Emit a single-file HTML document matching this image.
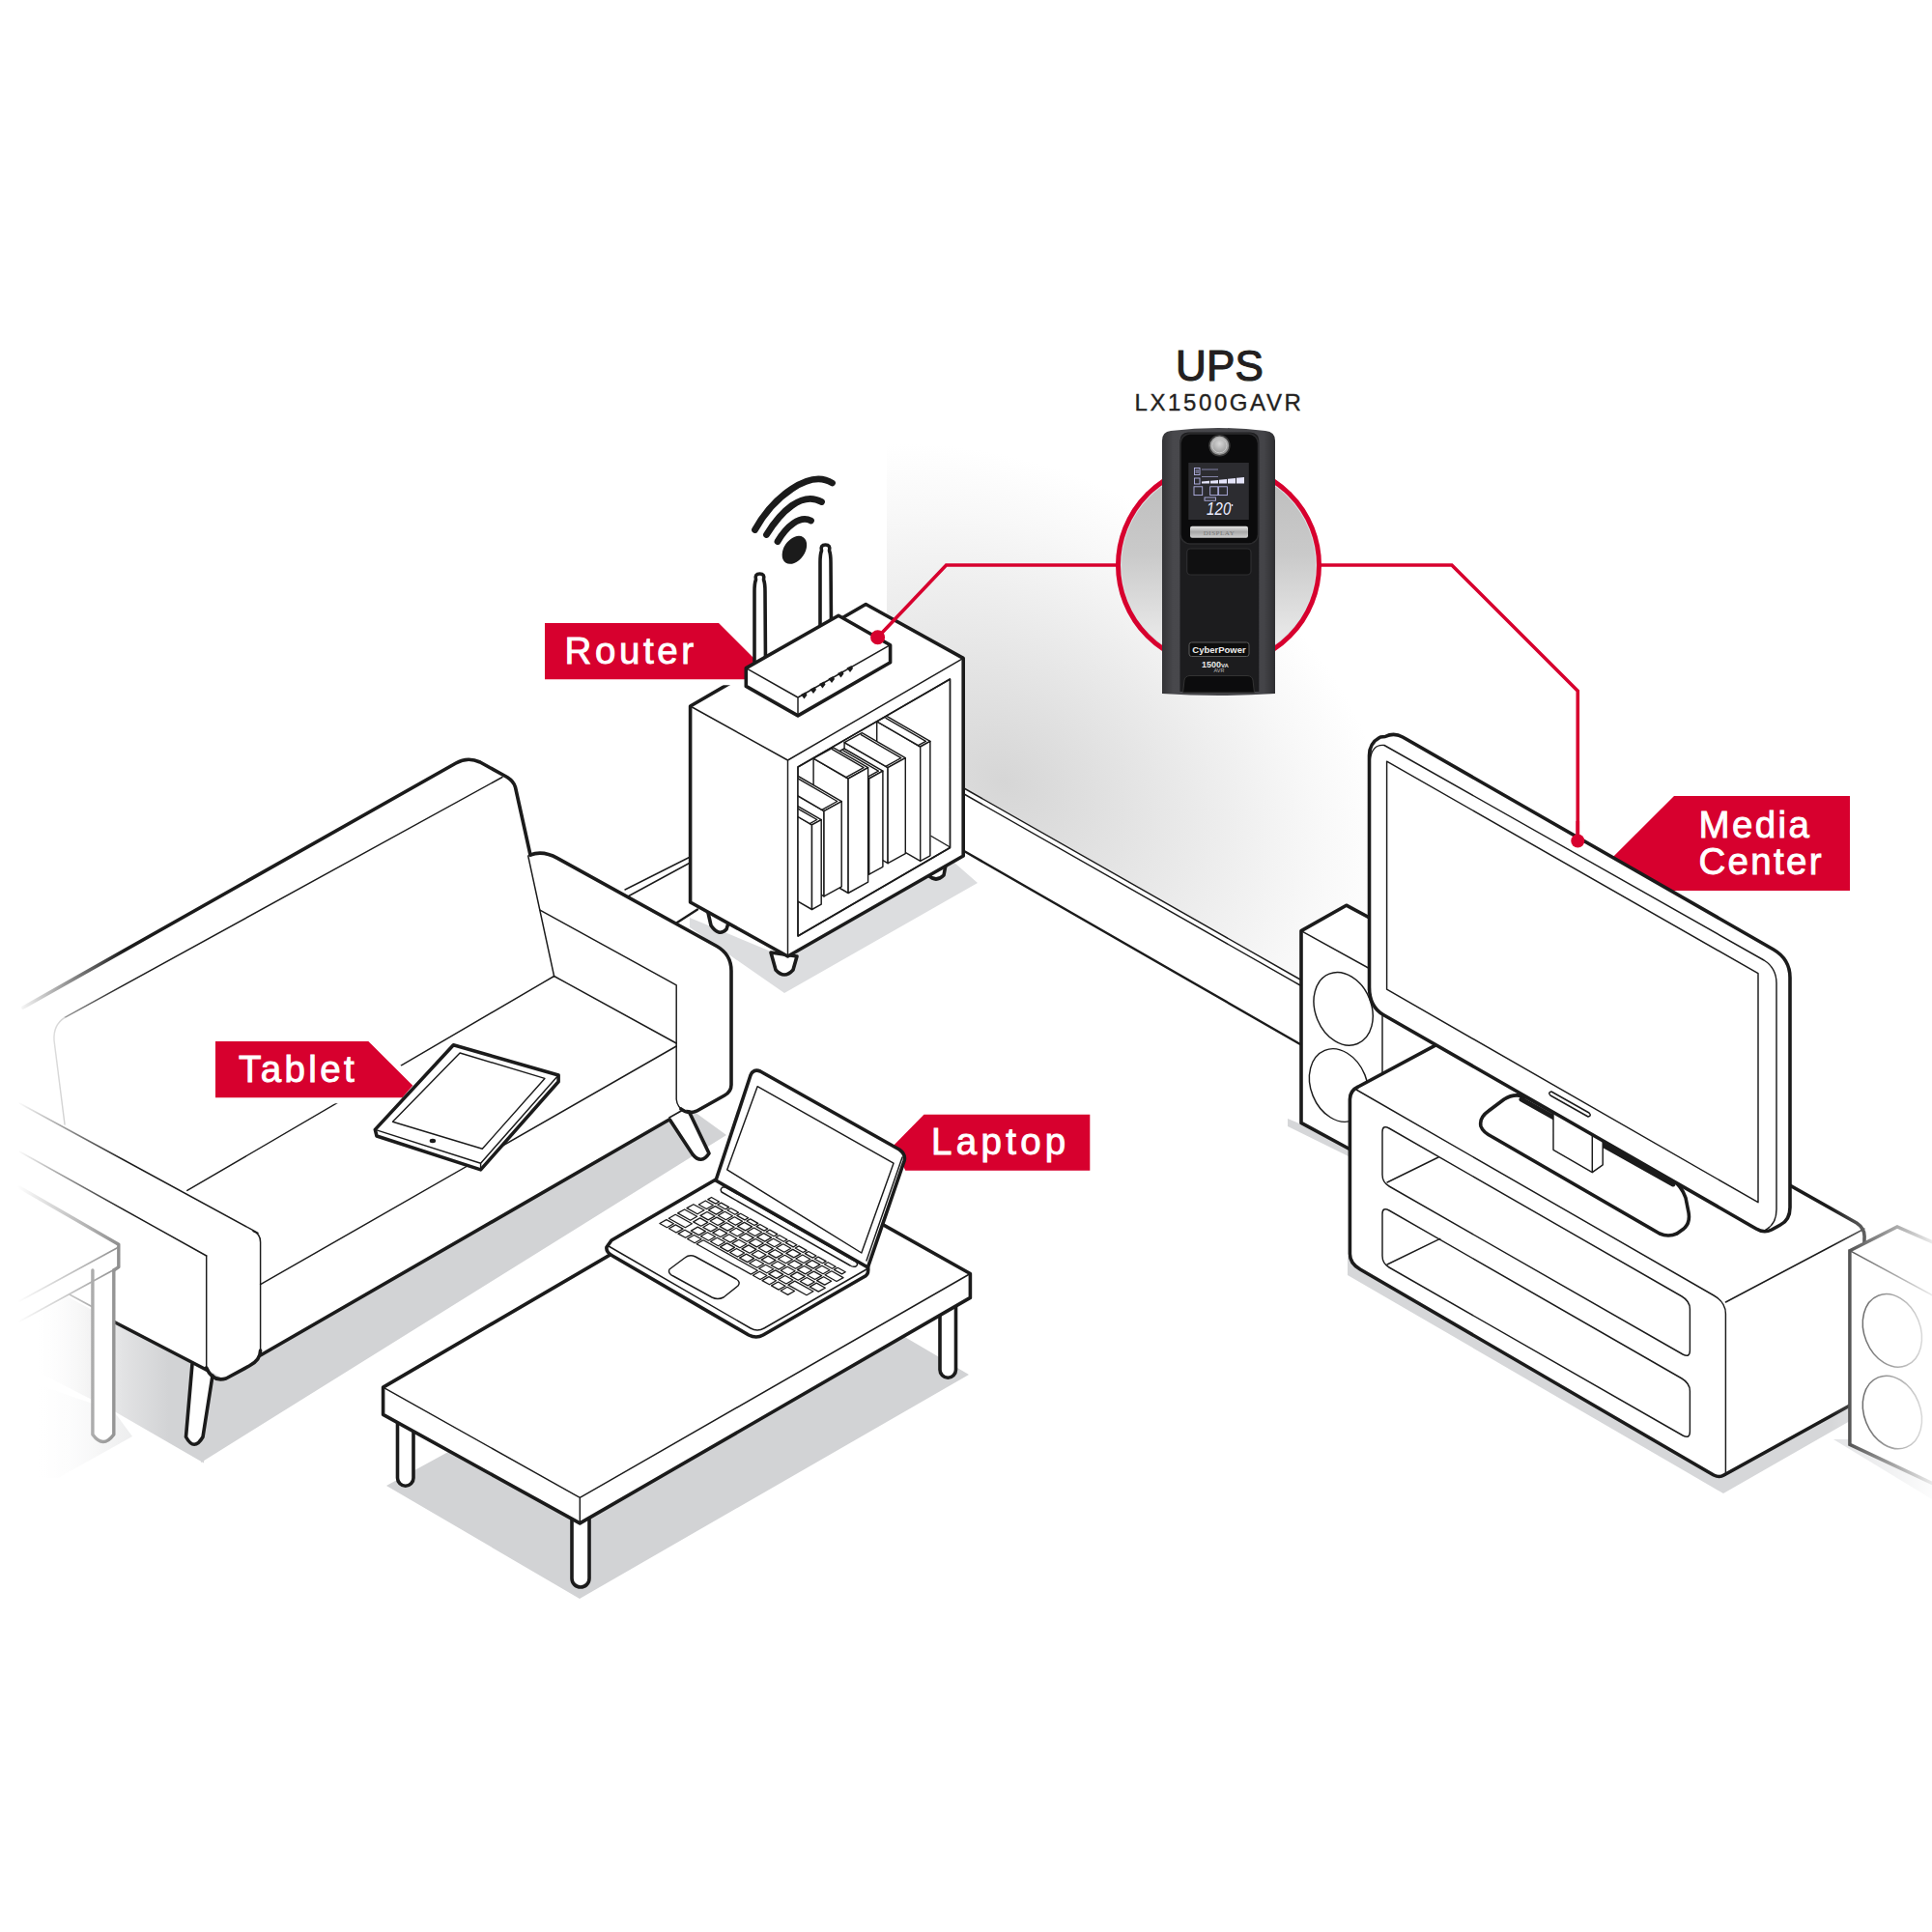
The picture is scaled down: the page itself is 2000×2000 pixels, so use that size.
<!DOCTYPE html>
<html><head><meta charset="utf-8">
<style>
html,body{margin:0;padding:0;background:#fff;}
body{width:2000px;height:2000px;overflow:hidden;}
svg{display:block;}
.k{stroke:#1b1b1b;stroke-width:3.6;fill:none;stroke-linejoin:round;stroke-linecap:round;}
.t{stroke:#1b1b1b;stroke-width:1.45;fill:none;stroke-linejoin:round;stroke-linecap:round;}
.kw{stroke:#1b1b1b;stroke-width:3.6;fill:#fff;stroke-linejoin:round;stroke-linecap:round;}
.tw{stroke:#1b1b1b;stroke-width:1.45;fill:#fff;stroke-linejoin:round;stroke-linecap:round;}
.r{stroke:#d7002e;stroke-width:3.6;fill:none;stroke-linejoin:miter;}
.lbl{font-family:"Liberation Sans",sans-serif;font-weight:normal;font-size:38.5px;fill:#fff;stroke:#fff;stroke-width:0.9px;}
</style></head><body>
<svg width="2000" height="2000" viewBox="0 0 2000 2000" xmlns="http://www.w3.org/2000/svg">
<!-- defs -->
<defs>
<radialGradient id="wallg" gradientUnits="userSpaceOnUse" cx="0" cy="0" r="1" gradientTransform="translate(1040 810) rotate(30) scale(430 320)">
<stop offset="0" stop-color="#d6d6d6"/><stop offset="0.5" stop-color="#ebebeb"/><stop offset="0.8" stop-color="#f8f8f8"/><stop offset="1" stop-color="#ffffff"/>
</radialGradient>
<linearGradient id="upsg" gradientUnits="userSpaceOnUse" x1="0" y1="480" x2="0" y2="690">
<stop offset="0" stop-color="#bcbcbc"/><stop offset="0.45" stop-color="#cacaca"/><stop offset="1" stop-color="#f3f3f3"/>
</linearGradient>
<linearGradient id="fadeL" gradientUnits="userSpaceOnUse" x1="18" y1="0" x2="128" y2="0">
<stop offset="0" stop-color="#fff" stop-opacity="1"/><stop offset="1" stop-color="#fff" stop-opacity="0"/>
</linearGradient>
<linearGradient id="shadL" gradientUnits="userSpaceOnUse" x1="40" y1="0" x2="175" y2="0">
<stop offset="0" stop-color="#d2d3d5" stop-opacity="0"/><stop offset="1" stop-color="#d2d3d5" stop-opacity="1"/>
</linearGradient>
<linearGradient id="fadeR" gradientUnits="userSpaceOnUse" x1="1895" y1="0" x2="2000" y2="0">
<stop offset="0" stop-color="#fff" stop-opacity="0"/><stop offset="1" stop-color="#fff" stop-opacity="0.9"/>
</linearGradient>
<linearGradient id="sideg" gradientUnits="userSpaceOnUse" x1="1203" y1="0" x2="1320" y2="0">
<stop offset="0" stop-color="#333336"/><stop offset="0.1" stop-color="#48484c"/><stop offset="0.9" stop-color="#444448"/><stop offset="1" stop-color="#2e2e31"/>
</linearGradient>
<linearGradient id="silver" x1="0" y1="0" x2="0" y2="1">
<stop offset="0" stop-color="#e6e6e6"/><stop offset="0.5" stop-color="#a9a9a9"/><stop offset="1" stop-color="#d0d0d0"/>
</linearGradient>
<radialGradient id="btng" cx="0.5" cy="0.4" r="0.6">
<stop offset="0" stop-color="#d8d8d8"/><stop offset="1" stop-color="#8a8a8a"/>
</radialGradient>
<clipPath id="shelfclip"><polygon points="826,794 983.5,703 983.5,877.5 826,969"/></clipPath>
</defs>
<rect x="0" y="0" width="2000" height="2000" fill="#fff"/>

<!-- floor -->
<g id="wall">
<polygon points="918,300 1800,300 1800,1100 1346,1014 998,816 918,770" fill="url(#wallg)"/>
<!-- right baseboard -->
<polygon points="918,770 998,816 1346,1014 1346,1081 998,881 918,835" fill="#fff"/>
<path class="t" d="M998,816 L1346,1014 M998,822 L1346,1020"/>
<path class="t" d="M998,881 L1346,1081" style="stroke-width:2.4"/>
<!-- left baseboard -->
<path class="t" d="M647,921 L714.5,887 M650,928 L714.5,893"/>
<path class="t" d="M701,955 L722,941.5" style="stroke-width:2.4"/>
</g>
<g id="shadows">
<polygon points="714,950 714,960 812,1028 1012,914 988,893 815,992" fill="#dcdddf"/>
<polygon points="175,1340 213.7,1418 208,1514 752,1175 712,1146 300,1270" fill="#d2d3d5"/>
<polygon points="0,1300 118,1369 213.7,1418 211,1514.4 117.5,1460.6 0,1400" fill="url(#shadL)"/>
<polygon points="0,1420 117.5,1460.6 137,1487 60,1530 0,1530" fill="url(#shadL)" opacity="0.55"/>
<polygon points="400,1538 600,1655 1003,1423 940,1386 800,1300 464,1503" fill="#d2d3d5"/>
<polygon points="1395,1300 1395,1320 1784,1546 1915,1471 1915,1455 1784,1527" fill="#d6d7d9"/>
<polygon points="1333,1158 1333,1166 1398,1198 1398,1185" fill="#d6d7d9"/>
</g>

<!-- bookshelf -->
<g id="bookshelf">
<path class="kw" d="M731,936 L736,958 Q744,970 752,962 L757,946 Z" />
<path class="kw" d="M798,986 L803,1004 Q812,1014 821,1004 L825,990 Z" />
<path class="kw" d="M957,893 L961,906 Q969,914 977,906 L981,885 Z" />
<polygon class="kw" points="714.6,731 896.3,625.5 997.2,681.4 997.2,886 815.5,990 714.6,934"/>
<path class="t" d="M714.6,731 L815.5,787 L997.2,681.4 M815.5,787 L815.5,990"/>
<polygon class="tw" points="826,794 983.5,703 983.5,877.5 826,969"/>
<path class="t" d="M964,865.5 L983.5,877"/>
<g clip-path="url(#shelfclip)"><polygon class="tw" points="952.7,773.0 907.7,746.9 907.7,865.3 952.7,891.4" /><polygon class="tw" points="952.7,773.0 962.9,767.4 917.9,741.3 907.7,746.9" /><polygon class="tw" points="952.7,773.0 962.9,767.4 962.9,885.8 952.7,891.4" /><path class="t" style="stroke-width:1.4" d="M917.0,743.3 L958.4,767.3 L950.5,771.7"/><polygon class="tw" points="919.1,794.7 874.1,768.6 874.1,867.6 919.1,893.7" /><polygon class="tw" points="919.1,794.7 937.3,784.7 892.3,758.6 874.1,768.6" /><polygon class="tw" points="919.1,794.7 937.3,784.7 937.3,883.7 919.1,893.7" /><path class="t" style="stroke-width:1.4" d="M891.4,760.6 L932.8,784.6 L916.9,793.4"/><polygon class="tw" points="899.7,806.0 859.7,782.8 859.7,881.9 899.7,905.1" /><polygon class="tw" points="899.7,806.0 913.9,798.2 873.9,775.0 859.7,782.8" /><polygon class="tw" points="899.7,806.0 913.9,798.2 913.9,897.3 899.7,905.1" /><path class="t" style="stroke-width:1.4" d="M872.8,776.9 L909.4,798.1 L897.5,804.7"/><polygon class="tw" points="878.1,806.0 842.1,785.1 842.1,903.6 878.1,924.5" /><polygon class="tw" points="878.1,806.0 898.6,794.7 862.6,773.8 842.1,785.1" /><polygon class="tw" points="878.1,806.0 898.6,794.7 898.6,913.2 878.1,924.5" /><path class="t" style="stroke-width:1.4" d="M861.4,775.7 L894.1,794.7 L875.9,804.7"/><polygon class="tw" points="853.0,839.6 808.0,813.5 808.0,901.8 853.0,927.9" /><polygon class="tw" points="853.0,839.6 871.2,829.6 826.2,803.5 808.0,813.5" /><polygon class="tw" points="853.0,839.6 871.2,829.6 871.2,917.9 853.0,927.9" /><path class="t" style="stroke-width:1.4" d="M825.3,805.5 L866.7,829.5 L850.8,838.3"/><polygon class="tw" points="840.5,853.9 795.5,827.8 795.5,915.4 840.5,941.5" /><polygon class="tw" points="840.5,853.9 850.2,848.6 805.2,822.5 795.5,827.8" /><polygon class="tw" points="840.5,853.9 850.2,848.6 850.2,936.2 840.5,941.5" /><path class="t" style="stroke-width:1.4" d="M804.3,824.5 L845.7,848.5 L838.3,852.6"/></g>
<polygon class="t" points="826,794 983.5,703 983.5,877.5 826,969"/>
</g>

<!-- lbl_router -->
<polygon points="564,645 744,645 781,682 771.5,703.2 564,703.2" fill="#fff" stroke="#fff" stroke-width="12" stroke-linejoin="miter"/>
<polygon points="564,645 744,645 781,682 771.5,703.2 564,703.2" fill="#d7002e"/>
<text class="lbl" x="584.5" y="686.6" letter-spacing="3.6">Router</text>

<!-- router -->
<g id="router">
<!-- antennas -->
<path class="kw" style="stroke-width:3.6" d="M781,690 L781,612 Q781,604 782.5,600 Q781,594 786.5,594 Q792,594 790.5,600 Q792,604 792,612 L792.5,690 Z"/>
<path class="kw" style="stroke-width:3.6" d="M849,650 L849,582 Q849,574 850.5,570 Q849,564 854.5,564 Q860,564 858.5,570 Q860,574 860,582 L860.5,650 Z"/>
<!-- body -->
<polygon class="kw" points="772.3,691.6 868,637.2 921.6,667.7 921.6,685.8 826,740.9 772.3,710.4"/>
<path class="t" d="M772.3,691.6 L826,722 L921.6,667.7 M826,722 L826,740.9"/>
<g fill="#1b1b1b">
<path d="M829,719 l5,-2.5 l1.5,3 l-3,4 z"/><path d="M838.5,713.5 l5,-2.5 l1.5,3 l-3,4 z"/><path d="M848,708 l5,-2.5 l1.5,3 l-3,4 z"/>
<path d="M857.5,702.5 l5,-2.5 l1.5,3 l-3,4 z"/><path d="M867,697 l5,-2.5 l1.5,3 l-3,4 z"/><path d="M876.5,691.5 l5,-2.5 l1.5,3 l-3,4 z"/>
</g>
<!-- wifi -->
<g stroke="#1b1b1b" stroke-width="6.8" fill="none" stroke-linecap="round">
<path d="M781.5,548.5 C800,515 838,485 861.5,500"/>
<path d="M793.5,553.5 C808,530 830,508 850.5,519.5"/>
<path d="M805,560.5 C814,545 828,533 839.5,539"/>
</g>
<ellipse cx="822.4" cy="569.3" rx="10.8" ry="16" transform="rotate(35 822.4 569.3)" fill="#1b1b1b"/>
</g>

<!-- ups -->
<g id="redlines">
<polyline class="r" points="908.6,659.7 979.5,585 1156,585"/>
<polyline class="r" points="1367,585 1502.9,585 1633.3,715.2 1633.3,869"/>
<circle cx="908.6" cy="659.7" r="7.5" fill="#d7002e"/>
</g>
<g id="ups">
<circle cx="1261.5" cy="585" r="101.5" fill="url(#upsg)"/>
<circle cx="1261.5" cy="585" r="101" fill="none" stroke="#d8e4e4" stroke-width="1.2"/>
<circle cx="1261.5" cy="585" r="104" fill="none" stroke="#d7002e" stroke-width="5"/>
<!-- body -->
<path d="M1203,456 Q1203,447 1212,446 Q1261,440 1310,446 Q1320,447 1320,456 L1320,718 Q1261,722 1203,718 Z" fill="url(#sideg)"/>
<path d="M1221.5,456 Q1221.5,448 1230,447.5 L1294,447.5 Q1303.3,448 1303.3,456 L1303.3,716 L1221.5,716 Z" fill="#1c1c1e"/>
<rect x="1222" y="449" width="80.5" height="114" rx="10" fill="#0b0b0c" stroke="#2b2b2d" stroke-width="1.5"/>
<circle cx="1262.4" cy="461.3" r="10.5" fill="url(#btng)" stroke="#3a3a3a" stroke-width="1.5"/>
<circle cx="1262.4" cy="461.3" r="7.5" fill="none" stroke="#c8c8c8" stroke-width="1"/>
<rect x="1230.3" y="479" width="62.5" height="59" fill="#2c2c30"/>
<g fill="none" stroke="#b4b4e8" stroke-width="0.9">
<rect x="1236.5" y="484.5" width="5.5" height="7"/><path d="M1237.5,487 h3.5 M1237.5,489 h3.5"/>
<rect x="1236.5" y="495" width="5.5" height="6"/>
<rect x="1236" y="503.8" width="8.7" height="8.8"/><rect x="1252.7" y="503.8" width="8.1" height="8.8"/><rect x="1261.6" y="503.8" width="8.8" height="8.8"/>
<rect x="1247" y="515" width="11.4" height="3.2"/>
</g>
<path d="M1244,486 h17 M1244,493.5 h17" stroke="#9a9ac8" stroke-width="0.8"/>
<g fill="#e4e4fa">
<path d="M1244,498.6 L1252,497.8 L1252,500.6 L1244,500.6 Z"/>
<path d="M1253,497.7 L1261,496.9 L1261,500.6 L1253,500.6 Z"/>
<path d="M1262,496.8 L1270,495.9 L1270,500.6 L1262,500.6 Z"/>
<path d="M1271,495.8 L1279,494.9 L1279,500.6 L1271,500.6 Z"/>
<path d="M1280,494.8 L1288,494 L1288,500.6 L1280,500.6 Z"/>
</g>
<text x="0" y="0" transform="translate(1249 532.7) scale(1 1.2)" font-family="Liberation Sans, sans-serif" font-style="italic" font-size="15" fill="#ececff" letter-spacing="0.2">120</text>
<circle cx="1275.5" cy="523" r="0.9" fill="#ececff"/>
<rect x="1232" y="544.7" width="60" height="12" rx="2" fill="url(#silver)"/>
<text x="1262" y="553.5" text-anchor="middle" font-family="Liberation Serif, serif" font-size="7" fill="#777" letter-spacing="0.5">DISPLAY</text>
<rect x="1228.7" y="568" width="66.3" height="27" rx="4" fill="#101011" stroke="#2e2e30" stroke-width="1.2"/>
<rect x="1231" y="665" width="62" height="14.5" rx="2.5" fill="#0d0d0d" stroke="#5a5a5a" stroke-width="1"/>
<text x="1262" y="676" text-anchor="middle" font-family="Liberation Sans, sans-serif" font-weight="bold" font-size="9.5" fill="#eee">CyberPower</text>
<text x="1258" y="690.5" text-anchor="middle" font-family="Liberation Sans, sans-serif" font-weight="bold" font-size="9" fill="#e8e8e8">1500<tspan font-size="6">VA</tspan></text>
<text x="1262" y="696" text-anchor="middle" font-family="Liberation Sans, sans-serif" font-size="5.5" fill="#bbb">AVR</text>
<path d="M1224.6,717 L1226,704 Q1227,699.5 1232,699.5 L1291,699.5 Q1296,699.5 1297,704 L1298.5,717 Z" fill="#0c0c0d" stroke="#333" stroke-width="1"/>
</g>
<text x="1262.5" y="393.7" text-anchor="middle" font-family="Liberation Sans, sans-serif" font-size="44" fill="#231f20" stroke="#231f20" stroke-width="1.2" letter-spacing="0.2">UPS</text>
<text x="1262" y="425" text-anchor="middle" font-family="Liberation Sans, sans-serif" font-size="24" fill="#231f20" stroke="#231f20" stroke-width="0.35" letter-spacing="2.6">LX1500GAVR</text>

<!-- sofa -->
<g id="sofa">
<!-- legs -->
<path class="kw" d="M692,1157 L717,1195 Q726,1206 734,1194 L712,1148"/>
<path class="kw" d="M199,1412 L192.5,1487.5 Q201,1503 210,1487.5 L220,1424"/>
<polygon fill="#fff" points="0,1060 24,1043 472,790 497,789 533,815 549,885 577,888 742,979.5 757,1005 757,1123 721,1150 705,1148 692.8,1159 269.6,1403 258,1414 232,1428 213.7,1417 118,1368 0,1305"/>
<path class="k" d="M24,1043 L472,790 Q484,783 497,789 L525,804.5 Q532,809 533.5,815 L549,885"/>
<path class="k" d="M549,885 Q562,880 577,888.4 L742,979.5 Q757,988 757,1005 L757,1123 Q757,1130 750,1134 L721,1150.2 Q712,1154 705,1148"/>
<path class="t" d="M520,804.5 L67,1053.4"/>
<path class="t" style="stroke:#9a9a9a" d="M67,1053.4 Q55,1061 56,1077 L67,1164"/>
<path class="t" d="M546.7,886 L573.6,1010.5"/>
<path class="t" d="M559,942.2 L700.2,1019.8 L700.2,1138 Q701,1147 709,1150"/>
<path class="t" d="M573.6,1010.5 L700.2,1080"/>
<path class="t" d="M573.6,1010.5 L193.8,1232.4"/>
<path class="t" d="M700.2,1083 L269.6,1329.7"/>
<path class="t" d="M20,1142 L267,1276.3"/>
<path class="t" d="M20,1192 L213.7,1300"/>
<path class="t" d="M262,1274.5 Q269.6,1277 269.6,1286 L269.6,1403 M213.7,1300 L213.7,1417"/>
<path class="k" d="M213.7,1416 Q220,1431 234,1427 L258,1414 Q269.6,1408 269.6,1398"/>
<path class="k" d="M269.6,1403 L692.8,1159"/>
<path class="t" d="M707,1149 L692.8,1157"/>
<path class="k" d="M100,1359 L213.7,1418"/>
</g>

<!-- lbl_tablet -->
<polygon points="223,1078 381.4,1078 427.3,1123.7 416.5,1136.2 223,1136.2" fill="#fff" stroke="#fff" stroke-width="12" stroke-linejoin="miter"/>
<polygon points="223,1078 381.4,1078 427.3,1123.7 416.5,1136.2 223,1136.2" fill="#d7002e"/>
<text class="lbl" x="247" y="1119.5" letter-spacing="3.4">Tablet</text>

<!-- tablet -->
<g id="tablet">
<polygon class="kw" points="388.3,1169.4 469.4,1081.7 578.1,1113.1 578.1,1119.8 497.6,1210.9 390,1176"/>
<path class="t" d="M388.3,1169.4 L497.6,1204.2 L578.1,1113.1 M497.6,1204.2 L497.6,1210.9"/>
<polygon class="t" points="406.5,1161.2 476.1,1090 563.9,1116.4 499.3,1189.3"/>
<ellipse cx="447.9" cy="1181" rx="3.2" ry="2.2" fill="#1b1b1b"/>
</g>

<!-- sidetable -->
<g id="sidetable" stroke="#8a8a8a" fill="none" stroke-linejoin="round" stroke-linecap="round">
<polygon points="0,1225 122.8,1288.2 122.8,1311.7 50.5,1353.8 0,1370" fill="#fff" stroke="none"/>
<path d="M95.9,1315 L95.9,1485 Q106.8,1500 117.8,1485 L117.8,1315" fill="#fff" stroke-width="3.4"/>
<path d="M20,1229 L122.8,1288.2 L122.8,1311.7 L117.8,1315" stroke-width="3.4"/>
<path d="M122.8,1291 L20,1347 M122.8,1311.7 L20,1368" stroke-width="1.6"/>
<path d="M72.3,1340.3 L95.9,1353" stroke-width="1.6"/>
</g>

<!-- table -->
<g id="table">
<path class="kw" d="M411.5,1460 L411.5,1530 A8.25,8.25 0 0 0 428,1530 L428,1470"/>
<path class="kw" d="M592,1570 L592,1634 A9,9 0 0 0 610,1634 L610,1572"/>
<path class="kw" d="M973,1337 L973,1418 A8.25,8.25 0 0 0 989.5,1418 L989.5,1335"/>
<polygon class="kw" points="396.6,1436.1 797.4,1202.2 1004.4,1318.5 1004.4,1343.4 600.3,1576.9 396.6,1464.3"/>
<path class="t" d="M396.6,1436.1 L600.3,1550.4 L1004.4,1318.5 M600.3,1550.4 L600.3,1576.9"/>
</g>

<!-- lbl_laptop -->
<polygon points="956.5,1153.7 1128.3,1153.7 1128.3,1211.8 937.3,1211.8 924.8,1186" fill="#d7002e"/>
<text class="lbl" x="964" y="1195.3" letter-spacing="4.3">Laptop</text>

<!-- laptop -->
<g id="laptop">
<path class="kw" d="M633,1284 L741,1221 L898.4,1311 Q900,1320 894,1322 L790,1382 Q783,1386 775,1382 L634,1300 Q627,1296 628,1291 Z"/>
<path class="t" d="M630,1290 L777,1375 Q784,1379 791,1375 L897,1314"/>
<path class="kw" d="M741,1222 L777,1113 Q780,1106 787,1109 L931,1190 Q938,1195 936,1202 L898.4,1312 Z"/>
<path class="t" d="M934,1198 L897,1305"/>
<polygon class="t" points="752.7,1210.9 784.1,1124.7 925,1204.2 891.8,1297"/>
<path class="t" d="M751,1229 L886,1306 Q889,1309 886,1311 Q883,1312 880,1310 L747,1234 Q745,1231 748,1229 Z"/>
<path class="t" style="stroke-width:1.3" d="M736.5,1239.5 L744.5,1244.0 L740.8,1246.1 L732.8,1241.6 Z M746.5,1245.1 L754.6,1249.6 L750.9,1251.7 L742.8,1247.2 Z M756.6,1250.7 L764.6,1255.2 L760.9,1257.3 L752.9,1252.8 Z M766.6,1256.3 L774.7,1260.8 L771.0,1262.9 L762.9,1258.4 Z M776.7,1261.9 L784.7,1266.4 L781.0,1268.5 L773.0,1264.0 Z M786.8,1267.5 L794.8,1272.0 L791.1,1274.1 L783.0,1269.6 Z M796.8,1273.1 L804.8,1277.6 L801.1,1279.7 L793.1,1275.2 Z M806.9,1278.7 L814.9,1283.2 L811.2,1285.3 L803.1,1280.8 Z M816.9,1284.3 L824.9,1288.8 L821.2,1290.9 L813.2,1286.4 Z M827.0,1289.9 L835.0,1294.4 L831.3,1296.5 L823.2,1292.0 Z M837.0,1295.5 L845.0,1300.0 L841.3,1302.1 L833.3,1297.6 Z M847.0,1301.1 L855.1,1305.6 L851.4,1307.7 L843.3,1303.2 Z M857.1,1306.7 L865.1,1311.2 L861.4,1313.3 L853.4,1308.8 Z M867.1,1312.3 L875.2,1316.8 L871.5,1318.9 L863.4,1314.4 Z M730.3,1243.0 L738.3,1247.5 L731.4,1251.5 L723.3,1247.0 Z M740.3,1248.6 L748.4,1253.1 L741.4,1257.1 L733.4,1252.6 Z M750.4,1254.2 L758.4,1258.7 L751.5,1262.7 L743.4,1258.2 Z M760.4,1259.8 L768.5,1264.3 L761.5,1268.3 L753.5,1263.8 Z M770.5,1265.4 L778.5,1269.9 L771.6,1273.9 L763.5,1269.4 Z M780.5,1271.0 L788.6,1275.5 L781.6,1279.5 L773.6,1275.0 Z M790.6,1276.6 L798.6,1281.1 L791.7,1285.1 L783.6,1280.6 Z M800.6,1282.2 L808.7,1286.7 L801.7,1290.7 L793.7,1286.2 Z M810.7,1287.8 L818.7,1292.3 L811.8,1296.3 L803.7,1291.8 Z M820.7,1293.4 L828.8,1297.9 L821.8,1301.9 L813.8,1297.4 Z M830.8,1299.0 L838.8,1303.5 L831.9,1307.5 L823.8,1303.0 Z M840.8,1304.6 L848.9,1309.1 L841.9,1313.1 L833.9,1308.6 Z M850.9,1310.2 L858.9,1314.7 L852.0,1318.7 L843.9,1314.2 Z M860.9,1315.8 L873.0,1322.6 L866.0,1326.5 L854.0,1319.8 Z M717.9,1246.7 L729.0,1252.8 L722.0,1256.8 L711.0,1250.6 Z M732.0,1254.5 L740.0,1259.0 L733.1,1262.9 L725.0,1258.4 Z M742.0,1260.1 L750.1,1264.6 L743.1,1268.5 L735.1,1264.0 Z M752.1,1265.7 L760.1,1270.2 L753.2,1274.1 L745.1,1269.6 Z M762.1,1271.3 L770.2,1275.8 L763.2,1279.7 L755.2,1275.2 Z M772.2,1276.9 L780.2,1281.4 L773.3,1285.3 L765.2,1280.8 Z M782.2,1282.5 L790.3,1287.0 L783.3,1290.9 L775.3,1286.4 Z M792.3,1288.1 L800.3,1292.6 L793.4,1296.5 L785.3,1292.0 Z M802.3,1293.7 L810.4,1298.2 L803.4,1302.1 L795.4,1297.6 Z M812.4,1299.3 L820.4,1303.8 L813.5,1307.7 L805.4,1303.2 Z M822.4,1304.9 L830.5,1309.4 L823.5,1313.3 L815.5,1308.8 Z M832.5,1310.5 L840.5,1315.0 L833.6,1318.9 L825.5,1314.4 Z M842.5,1316.1 L850.6,1320.6 L843.6,1324.5 L835.6,1320.0 Z M852.6,1321.7 L860.6,1326.2 L853.7,1330.1 L845.6,1325.6 Z M708.6,1252.0 L721.6,1259.2 L714.7,1263.2 L701.6,1255.9 Z M724.6,1260.9 L732.7,1265.4 L725.7,1269.3 L717.7,1264.9 Z M734.7,1266.5 L742.7,1271.0 L735.8,1274.9 L727.8,1270.5 Z M744.7,1272.1 L752.8,1276.6 L745.8,1280.5 L737.8,1276.1 Z M754.8,1277.7 L762.8,1282.2 L755.9,1286.1 L747.9,1281.7 Z M764.8,1283.3 L772.9,1287.8 L765.9,1291.7 L757.9,1287.3 Z M774.9,1288.9 L782.9,1293.4 L776.0,1297.3 L768.0,1292.9 Z M784.9,1294.5 L793.0,1299.0 L786.0,1302.9 L778.0,1298.5 Z M795.0,1300.1 L803.0,1304.6 L796.1,1308.5 L788.1,1304.1 Z M805.0,1305.7 L813.1,1310.2 L806.1,1314.1 L798.1,1309.7 Z M815.1,1311.3 L823.1,1315.8 L816.2,1319.7 L808.2,1315.3 Z M825.1,1316.9 L833.2,1321.4 L826.2,1325.3 L818.2,1320.9 Z M835.2,1322.5 L843.2,1327.0 L836.3,1330.9 L828.3,1326.5 Z M845.2,1328.1 L854.3,1333.2 L847.3,1337.1 L838.3,1332.1 Z M699.2,1257.3 L716.3,1266.8 L709.4,1270.7 L692.3,1261.2 Z M722.3,1270.1 L730.4,1274.6 L723.4,1278.6 L715.4,1274.1 Z M732.4,1275.7 L740.4,1280.2 L733.5,1284.2 L725.4,1279.7 Z M742.4,1281.3 L750.5,1285.8 L743.5,1289.8 L735.5,1285.3 Z M752.5,1286.9 L760.5,1291.4 L753.6,1295.4 L745.5,1290.9 Z M762.5,1292.5 L770.6,1297.0 L763.6,1301.0 L755.6,1296.5 Z M772.6,1298.1 L780.6,1302.6 L773.7,1306.6 L765.6,1302.1 Z M782.6,1303.7 L790.7,1308.2 L783.7,1312.2 L775.7,1307.7 Z M792.7,1309.3 L800.7,1313.8 L793.8,1317.8 L785.7,1313.3 Z M802.7,1314.9 L810.8,1319.4 L803.8,1323.4 L795.8,1318.9 Z M812.8,1320.5 L820.8,1325.0 L813.9,1329.0 L805.8,1324.5 Z M822.8,1326.1 L841.9,1336.8 L835.0,1340.7 L815.9,1330.1 Z M689.9,1262.6 L697.4,1266.8 L690.5,1270.7 L682.9,1266.5 Z M699.4,1267.9 L707.0,1272.1 L700.0,1276.0 L692.5,1271.8 Z M709.0,1273.2 L716.5,1277.4 L709.6,1281.3 L702.0,1277.1 Z M718.5,1278.5 L726.1,1282.7 L719.1,1286.7 L711.6,1282.5 Z M728.1,1283.8 L784.3,1315.2 L777.4,1319.1 L721.1,1287.8 Z M786.4,1316.3 L793.9,1320.5 L787.0,1324.5 L779.4,1320.3 Z M795.9,1321.6 L803.4,1325.8 L796.5,1329.8 L789.0,1325.6 Z M805.5,1327.0 L813.0,1331.2 L806.0,1335.1 L798.5,1330.9 Z M815.0,1332.3 L822.5,1336.5 L815.6,1340.4 L808.1,1336.2 Z"/>
<path class="t" d="M693,1314 Q691,1318 697,1321 L737,1343 Q743,1346 749,1343 L764,1331 Q767,1327 762,1324 L720,1301 Q714,1298 709,1302 Z"/>
</g>

<!-- media -->
<g id="media">
<!-- left speaker -->
<polygon fill="#fff" points="1347,963.6 1393.7,937.2 1440,962 1440,1200 1398,1190 1347,1162.4"/>
<path class="k" d="M1440,962 L1393.7,937.2 L1347,963.6 L1347,1162.4 L1398,1190"/>
<path class="t" d="M1347,963.6 L1440,1015 M1431,1010 L1431,1190"/>
<ellipse class="t" cx="1390.6" cy="1044.3" rx="29" ry="39" transform="rotate(-22 1390.6 1044.3)"/>
<ellipse class="t" cx="1386" cy="1123.5" rx="29" ry="39" transform="rotate(-22 1386 1123.5)"/>
<!-- media stand -->
<path class="kw" d="M1397.4,1138 Q1397.4,1129 1406,1125 L1542,1052 L1922,1266 Q1931,1272 1930,1282 L1930,1450 L1914.9,1455 L1784.6,1527 Q1780,1530 1774,1527 L1408,1314 Q1397.4,1308 1397.4,1298 Z"/>
<path class="t" d="M1404,1128 L1774,1341 Q1786.4,1348 1786.4,1360 L1786.4,1527 M1786.4,1348 L1930,1272"/>
<path class="tw" d="M1431,1172 Q1431,1164 1438,1168 L1741,1342 Q1749.4,1347 1749.4,1355 L1749.4,1398 Q1749.4,1406 1742,1402 L1438,1228 Q1431,1224 1431,1216 Z"/>
<path class="tw" d="M1431,1257 Q1431,1249 1438,1253 L1741,1427 Q1749.4,1432 1749.4,1440 L1749.4,1482 Q1749.4,1490 1742,1486 L1438,1312 Q1431,1308 1431,1300 Z"/>
<path class="t" d="M1436,1224 L1489,1198 M1436,1309 L1490.7,1282.4"/>
<!-- TV stand base -->
<path class="kw" d="M1541,1150 Q1531,1157 1533,1166 Q1535,1172 1545,1177 L1718,1277 Q1727,1281 1736,1277 L1743,1272 Q1750,1266 1748,1255 L1745,1240 Q1741,1228 1730,1220 L1580,1136 Q1568,1131 1557,1138 Z"/>
<path class="k" d="M1575,1138 L1732,1226" style="stroke-width:5"/>
<polygon class="tw" points="1608,1151.5 1648.3,1173.2 1659.2,1167 1659.2,1205.8 1648.3,1213.6 1608,1190.3"/>
<path class="t" d="M1648.3,1173.2 L1648.3,1213.6"/>
</g>
<g id="lbl_media">
<polygon points="1733,824 1915,824 1915,922 1729,922 1669.6,887.3" fill="#d7002e"/>
<text class="lbl" x="1758.5" y="867.4" letter-spacing="2.4">Media</text>
<text class="lbl" x="1758.5" y="905.4" letter-spacing="2.3">Center</text>
</g>

<g id="tv">
<!-- TV -->
<path class="kw" d="M1417.5,1025 L1417.5,782 Q1417.5,769 1429,763 L1434,762.5 Q1443,758 1452,763 L1836,983 Q1853,993 1853,1012 L1853,1250 Q1853,1263 1843,1268 L1834,1273 Q1826,1277 1818,1272 L1432,1050.5 Q1417.5,1042 1417.5,1022 Z"/>
<path class="t" d="M1418,788 Q1420,770 1433,771.5 L1826,994 Q1839,1002 1839,1018 L1839,1252 Q1839,1267 1828,1273"/>
<polygon class="t" points="1435.6,788.1 1820,1007.7 1820,1244.7 1435.6,1024.2"/>
<path class="t" d="M1606,1130 L1645,1152 Q1648,1155 1644,1156 L1605,1134 Q1602,1131 1606,1130 Z"/>
</g>

<polygon points="1898,1490 1915,1490 2000,1536 2000,1552" fill="#e2e3e5"/>
<g id="rspk">
<g stroke="#333" fill="#fff">
<polygon points="1914.9,1294.7 1964,1270 2010,1290 2010,1540 1914.9,1495.4" stroke-width="3.5"/>
<path d="M1914.9,1294.7 L2010,1346" fill="none" stroke-width="1.5"/>
<ellipse cx="1958.9" cy="1377.4" rx="29" ry="39" transform="rotate(-22 1958.9 1377.4)" fill="none" stroke-width="1.5"/>
<ellipse cx="1958.9" cy="1462" rx="29" ry="39" transform="rotate(-22 1958.9 1462)" fill="none" stroke-width="1.5"/>
</g>
</g>
<g id="redtv">
<polyline class="r" points="1633.3,850 1633.3,869"/>
<circle cx="1633.3" cy="870.5" r="7" fill="#d7002e"/>
</g>

<!-- fade -->
<rect x="0" y="700" width="130" height="1000" fill="url(#fadeL)"/>
<rect x="1880" y="1150" width="120" height="500" fill="url(#fadeR)"/>

</svg>
</body></html>
